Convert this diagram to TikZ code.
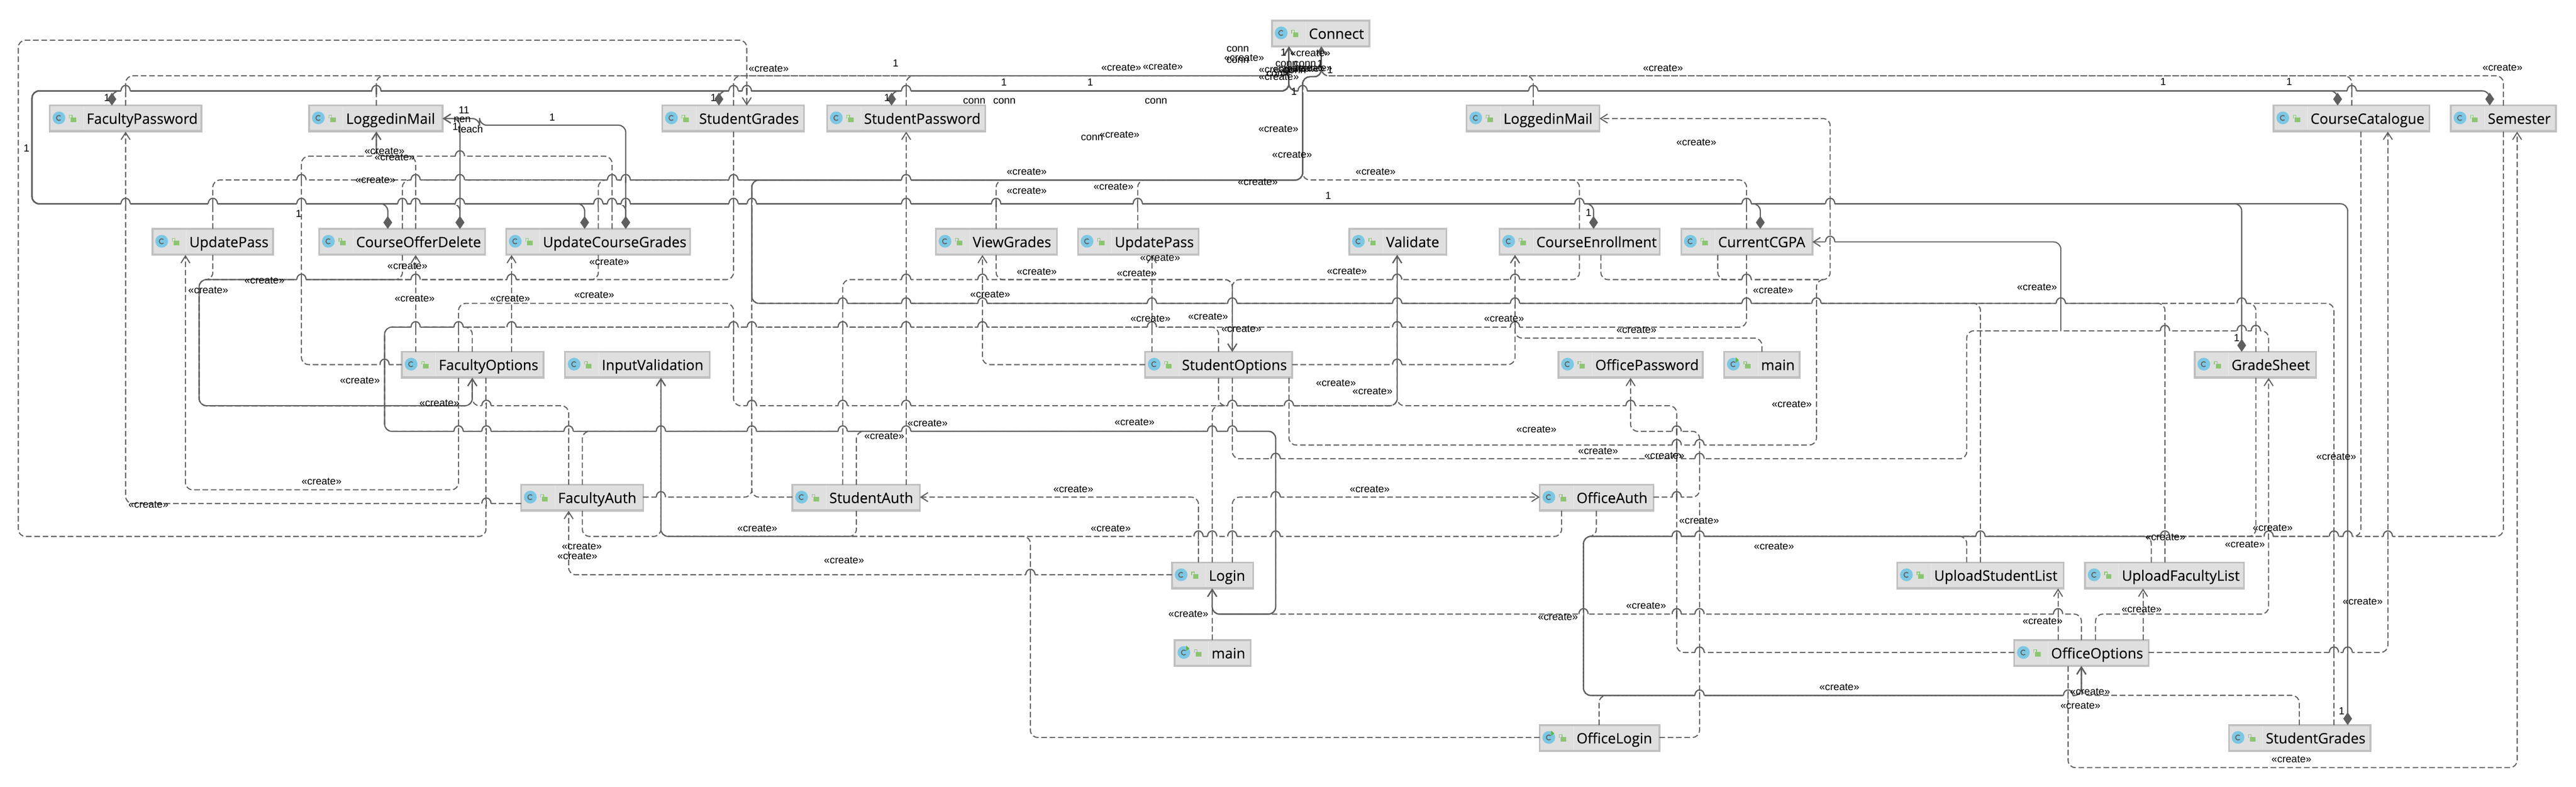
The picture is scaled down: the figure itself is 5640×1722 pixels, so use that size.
\documentclass[tikz,border=0pt]{standalone}
\usepackage{fontspec}
\setmainfont{Liberation Sans}
\newfontfamily\clsfont[FakeStretch=1.0]{Open Sans}
\usetikzlibrary{arrows.meta}
\definecolor{edgegray}{HTML}{5F5F5F}
\definecolor{clsfill}{HTML}{DFDFDF}
\definecolor{clsedge}{HTML}{C0C0C0}
\definecolor{iconblue}{HTML}{7CC7E3}
\definecolor{icongreen}{HTML}{8CC572}
\definecolor{rungreen}{HTML}{62B543}
\tikzset{
  clsbox/.style={draw=clsedge,fill=clsfill,line width=1.1pt,minimum height=0.57cm,inner sep=0pt,outer sep=0pt},
  clstxt/.style={font=\clsfont\addfontfeature{FakeBold=0.12}\fontsize{8.9}{10}\selectfont,inner sep=0pt,text=black},
  lbl/.style={font=\fontsize{6.4}{7}\selectfont,inner sep=0pt,text=black},
  crt/.style={draw=edgegray,line width=0.68pt,dash pattern=on 3.5pt off 1.7pt,rounded corners=4.5pt,
    -{Straight Barb[length=4.4pt,width=5.6pt]}},
  crtjoin/.style={crt,arrows=-},
  own/.style={draw=edgegray,line width=0.75pt,rounded corners=4.5pt,
    {Straight Barb[length=4.4pt,width=5.6pt]}-{Diamond[length=8pt,width=5.5pt]}}
}
\newcommand{\prcls}[5]{
  \node[clsbox,minimum width={(#4-#2-4)*0.01cm},anchor=north west] (#1) at (#2+2,#3+2) {};
  \draw[clsedge,line width=0.7pt] (#2+2,#3+57) -- (#4-2,#3+57);
  \draw[white!35!clsfill,line width=0.3pt] (#2+76,#3+4) -- (#2+76,#3+54);
  \fill[iconblue] (#2+22,#3+29) circle[radius=14];
  \draw[edgegray,line width=0.55pt] (#2+26,#3+33) arc[start angle=45,end angle=315,radius=5.5];
  \fill[icongreen] (#2+48,#3+28) rectangle (#2+60,#3+38);
  \draw[icongreen,line width=0.45pt] (#2+45,#3+30) -- (#2+45,#3+23) -- (#2+51,#3+23) -- (#2+51,#3+28);
  \node[clstxt,anchor=base west] (#1text) at (#2+82,#3+42) {#5};
}
\newcommand{\prrun}[2]{\fill[rungreen] (#1+27,#2+14) -- (#1+34,#2+20) -- (#1+27,#2+26) -- cycle;}
\newcommand{\prhop}[2]{
  \draw[white,line width=1.5pt] (#1-10,#2) -- (#1+10,#2);
  \draw[edgegray,line width=0.68pt] (#1,#2-7) -- (#1,#2+7);
  \draw[edgegray,line width=0.75pt] (#1-10,#2) .. controls (#1-10,#2-16) and (#1+10,#2-16) .. (#1+10,#2);
}

\begin{document}
\begin{tikzpicture}[x=0.01cm,y=-0.01cm]

    \useasboundingbox (0,0) rectangle (5640,1722);

    % classes
    \prcls{Connect}{2783}{43}{3000}{Connect}
    \prcls{FacultyPassword}{107}{229}{443}{FacultyPassword}
    \prcls{LoggedinMail}{675}{229}{971}{LoggedinMail}
    \prcls{StudentGrades}{1448}{229}{1762}{StudentGrades}
    \prcls{StudentPassword}{1809}{229}{2159}{StudentPassword}
    \prcls{LoggedinMailB}{3209}{229}{3504}{LoggedinMail}
    \prcls{CourseCatalogue}{4976}{229}{5321}{CourseCatalogue}
    \prcls{Semester}{5364}{229}{5598}{Semester}
    \prcls{UpdatePass}{332}{499}{600}{UpdatePass}
    \prcls{CourseOfferDelete}{697}{499}{1064}{CourseOfferDelete}
    \prcls{UpdateCourseGrades}{1106}{499}{1513}{UpdateCourseGrades}
    \prcls{ViewGrades}{2047}{499}{2316}{ViewGrades}
    \prcls{UpdatePassB}{2358}{499}{2626}{UpdatePass}
    \prcls{Validate}{2952}{499}{3169}{Validate}
    \prcls{CourseEnrollment}{3281}{499}{3636}{CourseEnrollment}
    \prcls{CurrentCGPA}{3679}{499}{3970}{CurrentCGPA}
    \prcls{FacultyOptions}{878}{768}{1192}{FacultyOptions}
    \prcls{InputValidation}{1235}{768}{1556}{InputValidation}
    \prcls{StudentOptions}{2505}{768}{2831}{StudentOptions}
    \prcls{OfficePassword}{3410}{768}{3730}{OfficePassword}
    \prcls{main}{3773}{768}{3942}{main}
    \prrun{3773}{768}
    \prcls{GradeSheet}{4803}{768}{5073}{GradeSheet}
    \prcls{FacultyAuth}{1139}{1059}{1410}{FacultyAuth}
    \prcls{StudentAuth}{1733}{1059}{2016}{StudentAuth}
    \prcls{OfficeAuth}{3369}{1059}{3622}{OfficeAuth}
    \prcls{Login}{2564}{1229}{2746}{Login}
    \prcls{UploadStudentList}{4152}{1229}{4520}{UploadStudentList}
    \prcls{UploadFacultyList}{4563}{1229}{4915}{UploadFacultyList}
    \prcls{mainB}{2570}{1399}{2740}{main}
    \prrun{2570}{1399}
    \prcls{OfficeOptions}{4408}{1399}{4706}{OfficeOptions}
    \prcls{OfficeLogin}{3369}{1585}{3635}{OfficeLogin}
    \prrun{3369}{1585}
    \prcls{StudentGradesB}{4878}{1585}{5192}{StudentGrades}

    \coordinate (cgpajoin) at (4512,724);
    \coordinate (mailjoin) at (3990,612);

    % composition from Connect
    \foreach \nm/\xx in {FacultyPassword/245,StudentGrades/1574,StudentPassword/1952,CourseCatalogue/5118,Semester/5451}
      \draw[own] (Connect.south -| 2822,0) |- (\xx,199) -- (\nm.north -| \xx,0);
    \foreach \nm/\xx in {CourseOfferDelete/849,CourseOfferDelete/1007,UpdateCourseGrades/1280,UpdateCourseGrades/1370,CourseEnrollment/3489,CurrentCGPA/3854,GradeSheet/4908,StudentGradesB/5140}
      \draw[own] (Connect.south -| 2822,0) |- (70,199) |- (\xx,446) -- (\nm.north -| \xx,0);
    \draw[own] (LoggedinMail.east) -| (CourseOfferDelete.north -| 1007,0);
    \draw[own] (LoggedinMail.east) -| (1050,274) -| (UpdateCourseGrades.north -| 1370,0);

    % create, into Connect
    \draw[crt] (FacultyPassword.north -| 275,0) |- (2822,166) -- (Connect.south -| 2822,0);
    \draw[crt] (LoggedinMail.north -| 824,0) |- (2822,166) -- (Connect.south -| 2822,0);
    \draw[crt] (StudentGrades.north -| 1606,0) |- (2822,166) -- (Connect.south -| 2822,0);
    \draw[crt] (StudentPassword.north -| 1984,0) |- (2822,166) -- (Connect.south -| 2822,0);
    \draw[crt] (LoggedinMailB.north -| 3357,0) |- (2893,166) -- (Connect.south -| 2893,0);
    \draw[crt] (CourseCatalogue.north -| 5149,0) |- (2893,166) -- (Connect.south -| 2893,0);
    \draw[crt] (Semester.north -| 5481,0) |- (2893,166) -- (Connect.south -| 2893,0);
    \foreach \nm/\xx in {UpdatePass/466,CourseOfferDelete/881,UpdateCourseGrades/1310,ViewGrades/2181,UpdatePassB/2491,CurrentCGPA/3824}
      \draw[crt] (\nm.north -| \xx,0) |- (2852,394) |- (2893,168) -- (Connect.south -| 2893,0);
    \draw[crtjoin] (CourseEnrollment.north -| 3458,0) |- (3435,394);
    \foreach \nm/\xx in {UploadStudentList/4336,UploadFacultyList/4740,GradeSheet/4939,StudentGradesB/5110}
      \draw[crt] (\nm.north -| \xx,0) |- (1646,664) |- (2852,394) |- (2893,168) -- (Connect.south -| 2893,0);
    \draw[crt] (FacultyAuth.east |- 0,1088) -| (1646,394) -| (2852,168) -| (Connect.south -| 2893,0);
    \draw[crtjoin] (StudentAuth.west |- 0,1088) -| (1646,1068);

    % create, faculty side
    \draw[crt] (FacultyOptions.south -| 1064,0) |- (40,1174) |- (1635,88) -- (StudentGrades.north -| 1635,0);
    \draw[crt] (FacultyAuth.west |- 0,1102) -| (FacultyPassword.south -| 275,0);
    \draw[crt] (FacultyOptions.west |- 0,798) -| (660,342) -| (LoggedinMail.south -| 824,0);
    \draw[crt] (CourseOfferDelete.north -| 910,0) |- (824,342) -- (LoggedinMail.south -| 824,0);
    \draw[crt] (UpdateCourseGrades.north -| 1340,0) |- (824,342) -- (LoggedinMail.south -| 824,0);
    \foreach \nm/\xx in {UpdatePass/466,CourseOfferDelete/881,UpdateCourseGrades/1310,StudentGrades/1606}
      \draw[crt] (\nm.south -| \xx,0) |- (436,612) |- (1034,888) -- (FacultyOptions.south -| 1034,0);
    \draw[crt] (FacultyAuth.north -| 1245,0) |- (1034,888) -- (FacultyOptions.south -| 1034,0);
    \draw[crt] (FacultyOptions.south -| 1004,0) |- (406,1072) -- (UpdatePass.south -| 406,0);
    \draw[crt] (FacultyOptions.north -| 910,0) -- (CourseOfferDelete.south -| 910,0);
    \draw[crt] (FacultyOptions.north -| 1120,0) -- (UpdateCourseGrades.south -| 1120,0);

    % create, into Validate and Login
    \draw[crt] (FacultyOptions.north -| 1004,0) |- (1606,664) |- (3059,888) -- (Validate.south -| 3059,0);
    \draw[crt] (StudentOptions.south -| 2668,0) |- (3059,888) -- (Validate.south -| 3059,0);
    \draw[crt] (Login.north -| 2654,0) |- (3059,888) -- (Validate.south -| 3059,0);
    \draw[crt] (OfficeOptions.west |- 0,1428) -| (3671,888) -| (Validate.south -| 3059,0);
    \draw[crt] (FacultyOptions.north -| 1034,0) |- (842,716) |- (2793,944) |- (2654,1344) -- (Login.south -| 2654,0);
    \draw[crt] (StudentOptions.north -| 2668,0) |- (842,716) |- (2793,944) |- (2654,1344) -- (Login.south -| 2654,0);
    \draw[crt] (CurrentCGPA.south -| 3824,0) |- (842,716) |- (2793,944) |- (2654,1344) -- (Login.south -| 2654,0);
    \draw[crt] (FacultyAuth.north -| 1275,0) |- (2793,944) |- (2654,1344) -- (Login.south -| 2654,0);
    \draw[crt] (StudentAuth.north -| 1875,0) |- (2793,944) |- (2654,1344) -- (Login.south -| 2654,0);
    \draw[crt] (OfficeOptions.north -| 4557,0) |- (2654,1344) -- (Login.south -| 2654,0);
    \draw[crt] (mainB.north -| 2654,0) -- (Login.south -| 2654,0);

    % create, student side
    \foreach \nm/\ss/\xx in {StudentAuth/north/1845,ViewGrades/south/2181,CourseEnrollment/south/3458}
      \draw[crt] (\nm.\ss -| \xx,0) |- (2698,612) -- (StudentOptions.north -| 2698,0);
    \draw[crt] (StudentAuth.north -| 1984,0) -- (StudentPassword.south -| 1984,0);
    \draw[crt] (StudentOptions.west |- 0,798) -| (ViewGrades.south -| 2151,0);
    \draw[crt] (StudentOptions.north -| 2522,0) -- (UpdatePassB.south -| 2522,0);
    \draw[crt] (StudentOptions.east |- 0,798) -| (CourseEnrollment.south -| 3317,0);
    \draw[crt] (main.north) |- (3317,740) -- (CourseEnrollment.south -| 3317,0);
    \draw[crt] (CourseEnrollment.south -| 3505,0) |- (4007,612) |- (LoggedinMailB.east);
    \draw[crtjoin] (CurrentCGPA.south -| 3761,0) |- (mailjoin);
    \draw[crtjoin] (StudentOptions.south -| 2822,0) |- (3977,974) |- (mailjoin);
    \draw[crtjoin] (StudentOptions.south -| 2698,0) |- (4306,1004) |- (cgpajoin);
    \draw[crtjoin] (GradeSheet.north -| 4967,0) |- (cgpajoin);
    \draw[crt,solid] (cgpajoin) |- (CurrentCGPA.east);

    % create, office side
    \draw[crt] (OfficeAuth.east |- 0,1088) -| (3721,944) -| (OfficePassword.south -| 3570,0);
    \draw[crtjoin] (OfficeLogin.east |- 0,1614) -| (3721,1100);
    \draw[crt] (Login.north -| 2624,0) |- (StudentAuth.east |- 0,1088);
    \draw[crt] (Login.north -| 2698,0) |- (OfficeAuth.west |- 0,1088);
    \draw[crt] (Login.west |- 0,1258) -| (FacultyAuth.south -| 1245,0);
    \draw[crt] (StudentAuth.south -| 1875,0) |- (1447,1174) -- (InputValidation.south -| 1447,0);
    \draw[crt] (FacultyAuth.south -| 1275,0) |- (1447,1174) -- (InputValidation.south -| 1447,0);
    \draw[crt] (OfficeAuth.south -| 3419,0) |- (1447,1174) -- (InputValidation.south -| 1447,0);
    \draw[crt] (OfficeLogin.west |- 0,1614) -| (2256,1174) -| (InputValidation.south -| 1447,0);
    \foreach \nm/\ss/\xx in {OfficeAuth/south/3495,CourseCatalogue/south/5169,Semester/south/5481,UploadStudentList/north/4306,UploadFacultyList/north/4710,GradeSheet/south/4939}
      \draw[crt] (\nm.\ss -| \xx,0) |- (3467,1174) |- (4557,1522) -- (OfficeOptions.south -| 4557,0);
    \draw[crt] (OfficeLogin.north -| 3501,0) |- (4557,1522) -- (OfficeOptions.south -| 4557,0);
    \draw[crt] (StudentGradesB.north -| 5034,0) |- (4557,1522) -- (OfficeOptions.south -| 4557,0);
    \draw[crt] (OfficeOptions.north -| 4506,0) -- (UploadStudentList.south -| 4506,0);
    \draw[crt] (OfficeOptions.north -| 4692,0) -- (UploadFacultyList.south -| 4692,0);
    \draw[crt] (OfficeOptions.north -| 4588,0) |- (4967,1344) -- (GradeSheet.south -| 4967,0);
    \draw[crt] (OfficeOptions.east |- 0,1428) -| (CourseCatalogue.south -| 5228,0);
    \draw[crt] (OfficeOptions.south -| 4528,0) |- (5511,1680) -- (Semester.south -| 5511,0);

    % line jumps
    \foreach \xx in {275,824,1606,1635,1984,2852,3357,5149} \prhop{\xx}{199};
    \foreach \xx in {660,910,1007,1340,1370,1606,1984} \prhop{\xx}{394};
    \foreach \xx in {275,466,660,881,910,1007,1310,1340,1370,1606,1646,1984,2181,2491,3458,3824,4007} \prhop{\xx}{446};
    \foreach \xx in {660,910,1120,1984,2151,3059,3317,3824} \prhop{\xx}{612};
    \foreach \xx in {1845,1984,2151,2522,2698,3059,3317,3824,3977,4512,4908} \prhop{\xx}{664};
    \foreach \xx in {910,1004,1120,1606,1646,1845,1984,2151,2522,3059,3317} \prhop{\xx}{716};
    \foreach \xx in {1065,1646,1845,1984,2698,2822,3570} \prhop{\xx}{888};
    \foreach \xx in {1004,1065,1245,1447,1646,1845,1984,2654,2698,3671} \prhop{\xx}{944};
    \foreach \xx in {3671,3721} \prhop{\xx}{974};
    \foreach \xx in {2793,3671,3721} \prhop{\xx}{1004};
    \foreach \xx in {1447,2793,3671} \prhop{\xx}{1088};
    \foreach \xx in {2624,2654,2698,2793,3671,3721,4336,4740,4967,5110,5140,5228} \prhop{\xx}{1174};
    \foreach \xx in {3467,3671,3721,4506} \prhop{\xx}{1344};
    \foreach \xx in {3721,5110,5140} \prhop{\xx}{1428};
    \foreach \xx in {3721,4528} \prhop{\xx}{1522};
    \foreach \xx in {4740,4908,4939} \prhop{\xx}{724};
    \prhop{1007}{342}
    \prhop{842}{798}
    \prhop{3059}{798}
    \prhop{1065}{1102}
    \prhop{2256}{1258}
    \prhop{4007}{529}

    % labels
    \foreach \xx/\yy [count=\i] in {1683/150,842/331,864/344,822/394,892/582,1334/573,579/614,456/635,908/653,1117/653,1301/645,788/833,
      962/882,704/1054,325/1105,1274/1196,1264/1217,1658/1156,1848/1226,1936/954,2031/926,2484/924,2350/1071,2999/1071,2432/1156,
      2602/1344,3364/940,3499/987,3644/997,3720/1140,3604/1326,3411/1350,3005/856,2724/127,2869/116,2455/148,2546/146,3641/149,
      2799/282,2829/339,2451/295,3714/311,2248/376,3012/376,2438/408,2248/417,2754/398,2270/595,2949/594,2489/598,2540/564,2168/644,
      2519/697,2645/693,2718/720,3293/697,3583/722,2925/838,2800/153,2800/168,2857/150,2873/149,2830/150,5479/148,3882/635,4460/629,
      3923/885,3884/1196,4741/1176,4976/1155,4915/1191,4689/1334,4472/1359,5173/1317,5115/1000,4027/1504,4576/1514,4555/1544,5017/1662}
      \node[lbl] (crlb\i) at (\xx,\yy) {«create»};
    \foreach \xx/\yy [count=\i] in {2133/221,2199/221,2531/221,2391/301,2710/107,2710/132,2817/140,2857/140,2797/162,2835/155}
      \node[lbl] (cnlb\i) at (\xx,\yy) {conn};
    \foreach \xx/\yy [count=\i] in {234/214,1562/214,58/324,654/468,1209/257,997/277,1942/214,1961/138,2198/180,2387/180,2908/428,3478/465,2833/200,2810/115,2890/140,2912/153,4736/179,5012/179,4897/740,5127/1556}
      \node[lbl] (onelb\i) at (\xx,\yy) {1};
    \node[lbl] (elevenlb) at (1016,241) {11};
    \node[lbl] (nenlb) at (1012,262) {nen};
    \node[lbl] (teachlb) at (1030,282) {teach};

\end{tikzpicture}
\end{document}
